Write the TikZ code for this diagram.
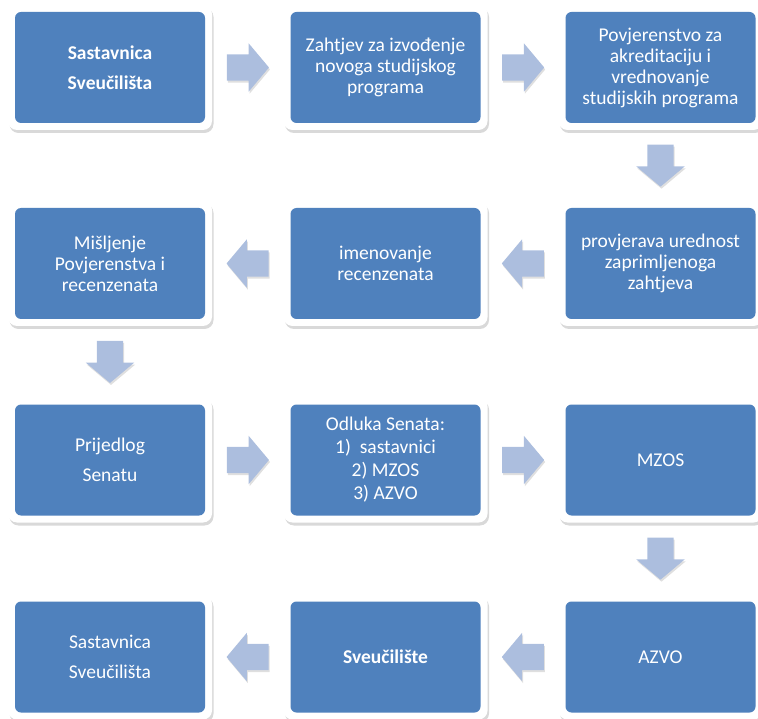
\documentclass[tikz,border=0pt]{standalone}
\usepackage{fontspec}
\setmainfont{Carlito}
\usepackage{xcolor}
\usetikzlibrary{calc, positioning, shapes.arrows, shadows}
\definecolor{smartblue}{RGB}{79,129,189}
\definecolor{arrowblue}{RGB}{172,190,222}
\tikzset{
    stage/.style={
        rectangle, rounded corners=9pt, fill=white,
        minimum width=204pt, minimum height=125pt, inner sep=0pt,
        align=center, text=white, font=\fontsize{19.5}{21}\selectfont,
        drop shadow={opacity=0.3, shadow xshift=1.5pt, shadow yshift=-3pt},
        path picture={\fill[smartblue, rounded corners=6pt] ([shift={(7pt,7pt)}]path picture bounding box.south west) rectangle ([shift={(-7pt,-7pt)}]path picture bounding box.north east);}
    },
    roomy/.style={font=\fontsize{19.5}{30}\selectfont},
    roomybold/.style={font=\fontsize{19.5}{30}\selectfont\bfseries},
    flow/.style={single arrow, fill=arrowblue, minimum height=42pt, minimum width=48pt,
        single arrow head extend=11pt, single arrow tip angle=100, inner sep=13pt, anchor=tail,
        drop shadow={opacity=0.25, shadow xshift=1pt, shadow yshift=-2pt}},
    flowright/.style={flow, xshift=-21pt},
    flowleft/.style={flow, shape border rotate=180, xshift=21pt},
    flowdown/.style={flow, shape border rotate=270, yshift=21pt}
}
\begin{document}
\begin{tikzpicture}[x=1pt, y=-1pt]
        \useasboundingbox (0,0) rectangle (758,719);

        % Row 1
        \node[stage, roomybold] (sastavnica) at (110,67.5) {Sastavnica\\Sveučilišta};
        \node[stage] (zahtjev) at (385.5,67.5) {Zahtjev za izvođenje\\novoga studijskog\\programa};
        \node[stage] (povjerenstvo) at (660.5,67.5) {Povjerenstvo za\\akreditaciju i\\vrednovanje\\studijskih programa};

        % Row 2
        \node[stage] (provjera) at (660.5,263.5) {provjerava urednost\\zaprimljenoga\\zahtjeva};
        \node[stage] (imenovanje) at (385.5,263.5) {imenovanje\\recenzenata};
        \node[stage] (misljenje) at (110,263.5) {Mišljenje\\Povjerenstva i\\recenzenata};

        % Row 3
        \node[stage, roomy] (prijedlog) at (110,460) {Prijedlog\\Senatu};
        \node[stage, font=\fontsize{19.5}{23}\selectfont] (odluka) at (385.5,460) {Odluka Senata:\\1)\ \ sastavnici\\2) MZOS\\3) AZVO};
        \node[stage] (mzos) at (660.5,460) {MZOS};

        % Row 4
        \node[stage] (azvo) at (660.5,657) {AZVO};
        \node[stage, roomybold] (sveuciliste) at (385.5,657) {Sveučilište};
        \node[stage, roomy] (povratak) at (110,657) {Sastavnica\\Sveučilišta};

        % Arrows
        \node[flowright] (f1) at ($(sastavnica)!0.5!(zahtjev)$) {};
        \node[flowright] (f2) at ($(zahtjev)!0.5!(povjerenstvo)$) {};
        \node[flowdown] (f3) at ($(povjerenstvo)!0.5!(provjera)$) {};
        \node[flowleft] (f4) at ($(provjera)!0.5!(imenovanje)$) {};
        \node[flowleft] (f5) at ($(imenovanje)!0.5!(misljenje)$) {};
        \node[flowdown] (f6) at ($(misljenje)!0.5!(prijedlog)$) {};
        \node[flowright] (f7) at ($(prijedlog)!0.5!(odluka)$) {};
        \node[flowright] (f8) at ($(odluka)!0.5!(mzos)$) {};
        \node[flowdown] (f9) at ($(mzos)!0.5!(azvo)$) {};
        \node[flowleft] (f10) at ($(azvo)!0.5!(sveuciliste)$) {};
        \node[flowleft] (f11) at ($(sveuciliste)!0.5!(povratak)$) {};
\end{tikzpicture}
\end{document}
